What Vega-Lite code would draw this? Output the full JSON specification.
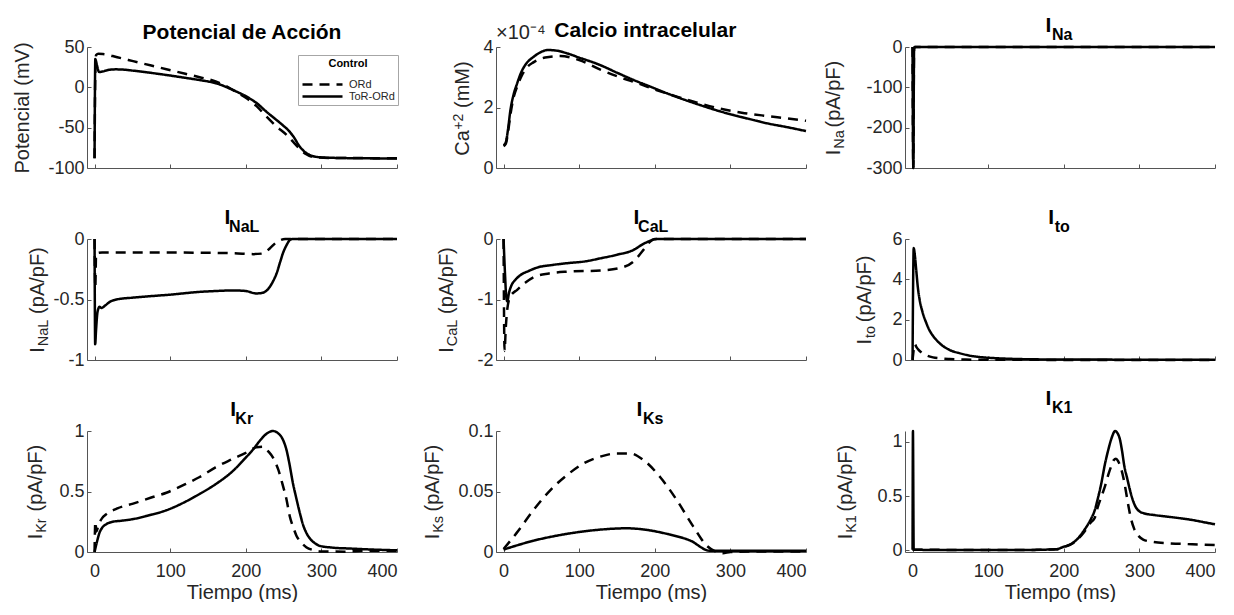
{
"$schema": "https://vega.github.io/schema/vega-lite/v6.json",
"padding": {"left": 11, "top": 15, "right": 0, "bottom": 0},
"background": "white",
"config": {
  "font": "Liberation Sans",
  "view": {"stroke": null},
  "title": {"font": "Liberation Sans", "color": "black", "fontWeight": "bold", "fontSize": 21, "offset": -5},
  "axis": {"grid": false, "domainColor": "#555555", "tickColor": "#555555", "tickSize": -4, "labelFont": "Liberation Sans", "labelFontSize": 18, "labelColor": "#262626", "labelPadding": 7, "titleFont": "Liberation Sans", "titleFontSize": 20, "titleFontWeight": "normal", "titleColor": "#262626", "labelExpr": "toString(datum.value)"},
  "line": {"color": "black", "strokeWidth": 2.5, "interpolate": "monotone"}
},
"datasets": {
"p1": [
{"t":0,"v":-88,"m":"ToR-ORd"},{"t":1,"v":35,"m":"ToR-ORd"},{"t":3,"v":28,"m":"ToR-ORd"},{"t":6,"v":19,"m":"ToR-ORd"},{"t":10,"v":19.5,"m":"ToR-ORd"},{"t":18,"v":21.5,"m":"ToR-ORd"},{"t":28,"v":22.3,"m":"ToR-ORd"},{"t":40,"v":21.8,"m":"ToR-ORd"},{"t":51,"v":20.7,"m":"ToR-ORd"},{"t":70,"v":18.5,"m":"ToR-ORd"},{"t":95,"v":15.3,"m":"ToR-ORd"},{"t":120,"v":11.8,"m":"ToR-ORd"},{"t":139,"v":9,"m":"ToR-ORd"},{"t":161,"v":5,"m":"ToR-ORd"},{"t":183,"v":-3.3,"m":"ToR-ORd"},{"t":200,"v":-11,"m":"ToR-ORd"},{"t":215,"v":-20,"m":"ToR-ORd"},{"t":227,"v":-30,"m":"ToR-ORd"},{"t":240,"v":-40,"m":"ToR-ORd"},{"t":249,"v":-47,"m":"ToR-ORd"},{"t":257,"v":-54,"m":"ToR-ORd"},{"t":263,"v":-61,"m":"ToR-ORd"},{"t":271,"v":-73,"m":"ToR-ORd"},{"t":278,"v":-80,"m":"ToR-ORd"},{"t":285,"v":-84,"m":"ToR-ORd"},{"t":298,"v":-86.7,"m":"ToR-ORd"},{"t":320,"v":-87.5,"m":"ToR-ORd"},{"t":360,"v":-88,"m":"ToR-ORd"},{"t":400,"v":-88.3,"m":"ToR-ORd"},
{"t":0,"v":-88,"m":"ORd"},{"t":1,"v":20,"m":"ORd"},{"t":2,"v":40,"m":"ORd"},{"t":5,"v":41.5,"m":"ORd"},{"t":11,"v":41.3,"m":"ORd"},{"t":30,"v":37.3,"m":"ORd"},{"t":51,"v":32.5,"m":"ORd"},{"t":75,"v":27,"m":"ORd"},{"t":95,"v":22.5,"m":"ORd"},{"t":120,"v":16.8,"m":"ORd"},{"t":139,"v":12.5,"m":"ORd"},{"t":161,"v":7,"m":"ORd"},{"t":172,"v":2.5,"m":"ORd"},{"t":183,"v":-3.3,"m":"ORd"},{"t":200,"v":-13,"m":"ORd"},{"t":215,"v":-24,"m":"ORd"},{"t":227,"v":-36,"m":"ORd"},{"t":240,"v":-48,"m":"ORd"},{"t":254,"v":-59,"m":"ORd"},{"t":263,"v":-68,"m":"ORd"},{"t":271,"v":-76,"m":"ORd"},{"t":280,"v":-83,"m":"ORd"},{"t":290,"v":-86.5,"m":"ORd"},{"t":310,"v":-87.5,"m":"ORd"},{"t":350,"v":-87.7,"m":"ORd"},{"t":400,"v":-88,"m":"ORd"}
],
"p2": [
{"t":0,"v":0.75,"m":"ToR-ORd"},{"t":3,"v":0.85,"m":"ToR-ORd"},{"t":6,"v":1.3,"m":"ToR-ORd"},{"t":9,"v":1.9,"m":"ToR-ORd"},{"t":13,"v":2.4,"m":"ToR-ORd"},{"t":18,"v":2.8,"m":"ToR-ORd"},{"t":24,"v":3.2,"m":"ToR-ORd"},{"t":30,"v":3.45,"m":"ToR-ORd"},{"t":40,"v":3.68,"m":"ToR-ORd"},{"t":50,"v":3.84,"m":"ToR-ORd"},{"t":58,"v":3.9,"m":"ToR-ORd"},{"t":70,"v":3.88,"m":"ToR-ORd"},{"t":84,"v":3.79,"m":"ToR-ORd"},{"t":100,"v":3.65,"m":"ToR-ORd"},{"t":128,"v":3.4,"m":"ToR-ORd"},{"t":150,"v":3.15,"m":"ToR-ORd"},{"t":172,"v":2.91,"m":"ToR-ORd"},{"t":195,"v":2.68,"m":"ToR-ORd"},{"t":216,"v":2.47,"m":"ToR-ORd"},{"t":240,"v":2.25,"m":"ToR-ORd"},{"t":260,"v":2.08,"m":"ToR-ORd"},{"t":280,"v":1.92,"m":"ToR-ORd"},{"t":304,"v":1.75,"m":"ToR-ORd"},{"t":325,"v":1.62,"m":"ToR-ORd"},{"t":348,"v":1.48,"m":"ToR-ORd"},{"t":375,"v":1.35,"m":"ToR-ORd"},{"t":400,"v":1.22,"m":"ToR-ORd"},
{"t":0,"v":0.72,"m":"ORd"},{"t":3,"v":0.8,"m":"ORd"},{"t":6,"v":1.2,"m":"ORd"},{"t":9,"v":1.75,"m":"ORd"},{"t":13,"v":2.3,"m":"ORd"},{"t":18,"v":2.69,"m":"ORd"},{"t":24,"v":3.05,"m":"ORd"},{"t":30,"v":3.3,"m":"ORd"},{"t":40,"v":3.5,"m":"ORd"},{"t":55,"v":3.65,"m":"ORd"},{"t":75,"v":3.7,"m":"ORd"},{"t":100,"v":3.57,"m":"ORd"},{"t":128,"v":3.25,"m":"ORd"},{"t":154,"v":3.0,"m":"ORd"},{"t":180,"v":2.78,"m":"ORd"},{"t":202,"v":2.58,"m":"ORd"},{"t":229,"v":2.36,"m":"ORd"},{"t":255,"v":2.17,"m":"ORd"},{"t":285,"v":1.97,"m":"ORd"},{"t":315,"v":1.83,"m":"ORd"},{"t":348,"v":1.72,"m":"ORd"},{"t":375,"v":1.64,"m":"ORd"},{"t":400,"v":1.56,"m":"ORd"}
],
"p3": [
{"t":0,"v":0,"m":"ToR-ORd"},{"t":1,"v":-300,"m":"ToR-ORd"},{"t":2,"v":-5,"m":"ToR-ORd"},{"t":3,"v":0,"m":"ToR-ORd"},{"t":100,"v":0,"m":"ToR-ORd"},{"t":400,"v":0,"m":"ToR-ORd"},
{"t":0,"v":0,"m":"ORd"},{"t":1,"v":-300,"m":"ORd"},{"t":2,"v":-5,"m":"ORd"},{"t":3,"v":0,"m":"ORd"},{"t":100,"v":0,"m":"ORd"},{"t":400,"v":0,"m":"ORd"}
],
"p4": [
{"t":0,"v":0,"m":"ToR-ORd"},{"t":0.8,"v":-0.87,"m":"ToR-ORd"},{"t":2,"v":-0.75,"m":"ToR-ORd"},{"t":4,"v":-0.6,"m":"ToR-ORd"},{"t":6.6,"v":-0.56,"m":"ToR-ORd"},{"t":9,"v":-0.57,"m":"ToR-ORd"},{"t":14,"v":-0.55,"m":"ToR-ORd"},{"t":20,"v":-0.52,"m":"ToR-ORd"},{"t":29,"v":-0.5,"m":"ToR-ORd"},{"t":50,"v":-0.485,"m":"ToR-ORd"},{"t":73,"v":-0.473,"m":"ToR-ORd"},{"t":100,"v":-0.46,"m":"ToR-ORd"},{"t":139,"v":-0.437,"m":"ToR-ORd"},{"t":160,"v":-0.43,"m":"ToR-ORd"},{"t":183,"v":-0.425,"m":"ToR-ORd"},{"t":200,"v":-0.43,"m":"ToR-ORd"},{"t":214,"v":-0.45,"m":"ToR-ORd"},{"t":222,"v":-0.445,"m":"ToR-ORd"},{"t":230,"v":-0.41,"m":"ToR-ORd"},{"t":236,"v":-0.35,"m":"ToR-ORd"},{"t":241,"v":-0.28,"m":"ToR-ORd"},{"t":245,"v":-0.2,"m":"ToR-ORd"},{"t":249,"v":-0.12,"m":"ToR-ORd"},{"t":254,"v":-0.05,"m":"ToR-ORd"},{"t":258,"v":-0.01,"m":"ToR-ORd"},{"t":262,"v":0,"m":"ToR-ORd"},{"t":300,"v":0,"m":"ToR-ORd"},{"t":400,"v":0,"m":"ToR-ORd"},
{"t":0,"v":0,"m":"ORd"},{"t":1,"v":-0.4,"m":"ORd"},{"t":2,"v":-0.12,"m":"ORd"},{"t":10,"v":-0.112,"m":"ORd"},{"t":100,"v":-0.112,"m":"ORd"},{"t":183,"v":-0.117,"m":"ORd"},{"t":210,"v":-0.125,"m":"ORd"},{"t":222,"v":-0.12,"m":"ORd"},{"t":232,"v":-0.076,"m":"ORd"},{"t":240,"v":-0.03,"m":"ORd"},{"t":245,"v":-0.012,"m":"ORd"},{"t":252,"v":0,"m":"ORd"},{"t":400,"v":0,"m":"ORd"}
],
"p5": [
{"t":0,"v":0,"m":"ToR-ORd"},{"t":2,"v":-0.6,"m":"ToR-ORd"},{"t":3.5,"v":-0.95,"m":"ToR-ORd"},{"t":5,"v":-1.03,"m":"ToR-ORd"},{"t":7,"v":-0.9,"m":"ToR-ORd"},{"t":10,"v":-0.78,"m":"ToR-ORd"},{"t":16,"v":-0.67,"m":"ToR-ORd"},{"t":22,"v":-0.6,"m":"ToR-ORd"},{"t":33,"v":-0.53,"m":"ToR-ORd"},{"t":45,"v":-0.47,"m":"ToR-ORd"},{"t":64,"v":-0.43,"m":"ToR-ORd"},{"t":84,"v":-0.4,"m":"ToR-ORd"},{"t":108,"v":-0.37,"m":"ToR-ORd"},{"t":128,"v":-0.32,"m":"ToR-ORd"},{"t":150,"v":-0.26,"m":"ToR-ORd"},{"t":172,"v":-0.18,"m":"ToR-ORd"},{"t":185,"v":-0.08,"m":"ToR-ORd"},{"t":192,"v":-0.04,"m":"ToR-ORd"},{"t":198,"v":-0.01,"m":"ToR-ORd"},{"t":205,"v":0,"m":"ToR-ORd"},{"t":400,"v":0,"m":"ToR-ORd"},
{"t":0,"v":0,"m":"ORd"},{"t":1.3,"v":-1.85,"m":"ORd"},{"t":3,"v":-1.45,"m":"ORd"},{"t":5,"v":-1.15,"m":"ORd"},{"t":9,"v":-0.95,"m":"ORd"},{"t":18,"v":-0.84,"m":"ORd"},{"t":29,"v":-0.72,"m":"ORd"},{"t":40,"v":-0.63,"m":"ORd"},{"t":60,"v":-0.57,"m":"ORd"},{"t":84,"v":-0.54,"m":"ORd"},{"t":128,"v":-0.52,"m":"ORd"},{"t":154,"v":-0.48,"m":"ORd"},{"t":172,"v":-0.37,"m":"ORd"},{"t":185,"v":-0.18,"m":"ORd"},{"t":194,"v":-0.04,"m":"ORd"},{"t":200,"v":0,"m":"ORd"},{"t":400,"v":0,"m":"ORd"}
],
"p6": [
{"t":0,"v":0,"m":"ToR-ORd"},{"t":0.8,"v":4,"m":"ToR-ORd"},{"t":1.5,"v":5.55,"m":"ToR-ORd"},{"t":3,"v":5.2,"m":"ToR-ORd"},{"t":5,"v":4.4,"m":"ToR-ORd"},{"t":7,"v":3.6,"m":"ToR-ORd"},{"t":9.3,"v":3.0,"m":"ToR-ORd"},{"t":13,"v":2.4,"m":"ToR-ORd"},{"t":18,"v":1.85,"m":"ToR-ORd"},{"t":22,"v":1.5,"m":"ToR-ORd"},{"t":27,"v":1.2,"m":"ToR-ORd"},{"t":33,"v":0.93,"m":"ToR-ORd"},{"t":40,"v":0.7,"m":"ToR-ORd"},{"t":50,"v":0.48,"m":"ToR-ORd"},{"t":63,"v":0.33,"m":"ToR-ORd"},{"t":78,"v":0.2,"m":"ToR-ORd"},{"t":94,"v":0.13,"m":"ToR-ORd"},{"t":115,"v":0.08,"m":"ToR-ORd"},{"t":138,"v":0.05,"m":"ToR-ORd"},{"t":170,"v":0.03,"m":"ToR-ORd"},{"t":250,"v":0.02,"m":"ToR-ORd"},{"t":400,"v":0.01,"m":"ToR-ORd"},
{"t":0,"v":0,"m":"ORd"},{"t":1.5,"v":0.5,"m":"ORd"},{"t":3,"v":0.79,"m":"ORd"},{"t":5,"v":0.65,"m":"ORd"},{"t":8,"v":0.5,"m":"ORd"},{"t":11.6,"v":0.38,"m":"ORd"},{"t":18,"v":0.24,"m":"ORd"},{"t":27,"v":0.13,"m":"ORd"},{"t":38,"v":0.08,"m":"ORd"},{"t":49,"v":0.05,"m":"ORd"},{"t":70,"v":0.02,"m":"ORd"},{"t":100,"v":0.01,"m":"ORd"},{"t":400,"v":0,"m":"ORd"}
],
"p7": [
{"t":0,"v":0,"m":"ToR-ORd"},{"t":3,"v":0.08,"m":"ToR-ORd"},{"t":6.6,"v":0.16,"m":"ToR-ORd"},{"t":10,"v":0.2,"m":"ToR-ORd"},{"t":15.5,"v":0.23,"m":"ToR-ORd"},{"t":24,"v":0.25,"m":"ToR-ORd"},{"t":35,"v":0.258,"m":"ToR-ORd"},{"t":51,"v":0.272,"m":"ToR-ORd"},{"t":70,"v":0.3,"m":"ToR-ORd"},{"t":95,"v":0.345,"m":"ToR-ORd"},{"t":120,"v":0.415,"m":"ToR-ORd"},{"t":139,"v":0.48,"m":"ToR-ORd"},{"t":160,"v":0.56,"m":"ToR-ORd"},{"t":183,"v":0.67,"m":"ToR-ORd"},{"t":200,"v":0.78,"m":"ToR-ORd"},{"t":210,"v":0.85,"m":"ToR-ORd"},{"t":220,"v":0.93,"m":"ToR-ORd"},{"t":227,"v":0.975,"m":"ToR-ORd"},{"t":236,"v":1.0,"m":"ToR-ORd"},{"t":243,"v":0.98,"m":"ToR-ORd"},{"t":249,"v":0.93,"m":"ToR-ORd"},{"t":254,"v":0.84,"m":"ToR-ORd"},{"t":258,"v":0.72,"m":"ToR-ORd"},{"t":262,"v":0.58,"m":"ToR-ORd"},{"t":267,"v":0.44,"m":"ToR-ORd"},{"t":272,"v":0.31,"m":"ToR-ORd"},{"t":276,"v":0.22,"m":"ToR-ORd"},{"t":280,"v":0.16,"m":"ToR-ORd"},{"t":285,"v":0.11,"m":"ToR-ORd"},{"t":292,"v":0.07,"m":"ToR-ORd"},{"t":298,"v":0.05,"m":"ToR-ORd"},{"t":315,"v":0.036,"m":"ToR-ORd"},{"t":340,"v":0.028,"m":"ToR-ORd"},{"t":360,"v":0.022,"m":"ToR-ORd"},{"t":400,"v":0.014,"m":"ToR-ORd"},
{"t":0,"v":0,"m":"ORd"},{"t":1,"v":0.25,"m":"ORd"},{"t":2.5,"v":0.17,"m":"ORd"},{"t":5,"v":0.22,"m":"ORd"},{"t":10,"v":0.28,"m":"ORd"},{"t":15,"v":0.31,"m":"ORd"},{"t":30,"v":0.36,"m":"ORd"},{"t":51,"v":0.4,"m":"ORd"},{"t":75,"v":0.45,"m":"ORd"},{"t":95,"v":0.49,"m":"ORd"},{"t":120,"v":0.56,"m":"ORd"},{"t":139,"v":0.62,"m":"ORd"},{"t":160,"v":0.7,"m":"ORd"},{"t":183,"v":0.77,"m":"ORd"},{"t":200,"v":0.82,"m":"ORd"},{"t":214,"v":0.865,"m":"ORd"},{"t":223,"v":0.87,"m":"ORd"},{"t":230,"v":0.83,"m":"ORd"},{"t":236,"v":0.78,"m":"ORd"},{"t":243,"v":0.68,"m":"ORd"},{"t":249,"v":0.55,"m":"ORd"},{"t":254,"v":0.43,"m":"ORd"},{"t":258,"v":0.3,"m":"ORd"},{"t":263,"v":0.2,"m":"ORd"},{"t":267,"v":0.135,"m":"ORd"},{"t":273,"v":0.08,"m":"ORd"},{"t":280,"v":0.04,"m":"ORd"},{"t":290,"v":0.015,"m":"ORd"},{"t":298,"v":0.005,"m":"ORd"},{"t":330,"v":0.003,"m":"ORd"},{"t":360,"v":0.01,"m":"ORd"},{"t":400,"v":0.01,"m":"ORd"}
],
"p8": [
{"t":0,"v":0.002,"m":"ToR-ORd"},{"t":40,"v":0.0094,"m":"ToR-ORd"},{"t":84,"v":0.015,"m":"ToR-ORd"},{"t":128,"v":0.0185,"m":"ToR-ORd"},{"t":163,"v":0.0196,"m":"ToR-ORd"},{"t":180,"v":0.019,"m":"ToR-ORd"},{"t":216,"v":0.015,"m":"ToR-ORd"},{"t":247,"v":0.0094,"m":"ToR-ORd"},{"t":273,"v":0.001,"m":"ToR-ORd"},{"t":300,"v":0.001,"m":"ToR-ORd"},{"t":400,"v":0.001,"m":"ToR-ORd"},
{"t":0,"v":0.0025,"m":"ORd"},{"t":17.6,"v":0.016,"m":"ORd"},{"t":40,"v":0.035,"m":"ORd"},{"t":62,"v":0.0512,"m":"ORd"},{"t":84,"v":0.0636,"m":"ORd"},{"t":106,"v":0.0733,"m":"ORd"},{"t":128,"v":0.0788,"m":"ORd"},{"t":150,"v":0.0815,"m":"ORd"},{"t":167,"v":0.0815,"m":"ORd"},{"t":185,"v":0.076,"m":"ORd"},{"t":207,"v":0.062,"m":"ORd"},{"t":229,"v":0.043,"m":"ORd"},{"t":251,"v":0.021,"m":"ORd"},{"t":269,"v":0.005,"m":"ORd"},{"t":282,"v":0,"m":"ORd"},{"t":290,"v":-0.001,"m":"ORd"},{"t":300,"v":0,"m":"ORd"},{"t":350,"v":0.0005,"m":"ORd"},{"t":400,"v":0.0005,"m":"ORd"}
],
"p9": [
{"t":0,"v":0.005,"m":"ToR-ORd"},{"t":0.5,"v":1.1,"m":"ToR-ORd"},{"t":1.5,"v":0.005,"m":"ToR-ORd"},{"t":50,"v":0.004,"m":"ToR-ORd"},{"t":150,"v":0.004,"m":"ToR-ORd"},{"t":190,"v":0.01,"m":"ToR-ORd"},{"t":200,"v":0.034,"m":"ToR-ORd"},{"t":207,"v":0.05,"m":"ToR-ORd"},{"t":214,"v":0.08,"m":"ToR-ORd"},{"t":220,"v":0.12,"m":"ToR-ORd"},{"t":227,"v":0.186,"m":"ToR-ORd"},{"t":236,"v":0.29,"m":"ToR-ORd"},{"t":241,"v":0.37,"m":"ToR-ORd"},{"t":245,"v":0.477,"m":"ToR-ORd"},{"t":250,"v":0.63,"m":"ToR-ORd"},{"t":254,"v":0.78,"m":"ToR-ORd"},{"t":259,"v":0.93,"m":"ToR-ORd"},{"t":263,"v":1.03,"m":"ToR-ORd"},{"t":268,"v":1.1,"m":"ToR-ORd"},{"t":271,"v":1.08,"m":"ToR-ORd"},{"t":274,"v":1.03,"m":"ToR-ORd"},{"t":277,"v":0.92,"m":"ToR-ORd"},{"t":280,"v":0.78,"m":"ToR-ORd"},{"t":284,"v":0.66,"m":"ToR-ORd"},{"t":287,"v":0.57,"m":"ToR-ORd"},{"t":291,"v":0.47,"m":"ToR-ORd"},{"t":294,"v":0.415,"m":"ToR-ORd"},{"t":300,"v":0.36,"m":"ToR-ORd"},{"t":307,"v":0.34,"m":"ToR-ORd"},{"t":320,"v":0.325,"m":"ToR-ORd"},{"t":338,"v":0.31,"m":"ToR-ORd"},{"t":355,"v":0.295,"m":"ToR-ORd"},{"t":370,"v":0.28,"m":"ToR-ORd"},{"t":385,"v":0.26,"m":"ToR-ORd"},{"t":400,"v":0.24,"m":"ToR-ORd"},
{"t":0,"v":0.005,"m":"ORd"},{"t":150,"v":0.004,"m":"ORd"},{"t":190,"v":0.01,"m":"ORd"},{"t":200,"v":0.03,"m":"ORd"},{"t":214,"v":0.075,"m":"ORd"},{"t":227,"v":0.17,"m":"ORd"},{"t":236,"v":0.26,"m":"ORd"},{"t":241,"v":0.3,"m":"ORd"},{"t":245,"v":0.4,"m":"ORd"},{"t":250,"v":0.5,"m":"ORd"},{"t":254,"v":0.58,"m":"ORd"},{"t":259,"v":0.7,"m":"ORd"},{"t":263,"v":0.78,"m":"ORd"},{"t":266,"v":0.83,"m":"ORd"},{"t":269,"v":0.845,"m":"ORd"},{"t":272,"v":0.82,"m":"ORd"},{"t":276,"v":0.75,"m":"ORd"},{"t":280,"v":0.63,"m":"ORd"},{"t":283,"v":0.51,"m":"ORd"},{"t":286,"v":0.39,"m":"ORd"},{"t":289,"v":0.29,"m":"ORd"},{"t":293,"v":0.2,"m":"ORd"},{"t":298,"v":0.14,"m":"ORd"},{"t":305,"v":0.1,"m":"ORd"},{"t":316,"v":0.08,"m":"ORd"},{"t":338,"v":0.066,"m":"ORd"},{"t":370,"v":0.056,"m":"ORd"},{"t":400,"v":0.049,"m":"ORd"}
]
},
"columns": 3,
"spacing": {"row": 71, "column": 99},
"bounds": "flush",
"resolve": {"scale": {"strokeDash": "independent"}, "legend": {"strokeDash": "independent"}},
"concat": [
{
  "data": {"name": "p1"}, "width": 310, "height": 121,
  "title": {"text": "Potencial de Acción"},
  "mark": {"type": "line"},
  "encoding": {
    "x": {"field": "t", "type": "quantitative", "scale": {"domain": [-10, 400], "nice": false, "zero": false}, "axis": {"values": [0,100,200,300,400], "labels": false, "title": null}},
    "y": {"field": "v", "type": "quantitative", "scale": {"domain": [-100, 50], "nice": false, "zero": false}, "axis": {"values": [-100,-50,0,50], "title": "Potencial (mV)", "titleAngle": 270, "titleAlign": "center", "titleBaseline": "alphabetic", "titleX": -59, "titleY": 60.5}},
    "strokeDash": {"field": "m", "type": "nominal", "scale": {"domain": ["ORd", "ToR-ORd"], "range": [[10, 7], [1, 0]]},
      "legend": {"orient": "none", "legendX": 211, "legendY": 8, "title": "Control", "titleFontSize": 11, "titleFontWeight": "bold", "titleColor": "black", "titleAnchor": "middle", "titleAlign": "center", "titlePadding": 9, "labelFontSize": 11, "labelColor": "#262626", "labelOffset": 35, "symbolType": "M-1,0H7", "symbolSize": 100, "symbolStrokeWidth": 2.5, "symbolStrokeColor": "black", "strokeColor": "#a6a6a6", "fillColor": "white", "padding": 3, "rowPadding": 0}}
  }
},
{
  "data": {"name": "p2"}, "width": 310, "height": 121,
  "title": {"text": "\u200b\u00a0\u00a0\u00a0\u00a0\u00a0\u00a0\u00a0\u00a0\u00a0\u00a0Calcio intracelular", "anchor": "start", "frame": "group", "subtitle": "×10⁻⁴", "subtitleFont": "Liberation Sans", "subtitleFontSize": 20, "subtitleFontWeight": "normal", "subtitleColor": "#262626", "subtitlePadding": -18},
  "encoding": {"x": {"field": "t", "type": "quantitative", "scale": {"domain": [-10, 400], "nice": false, "zero": false}, "axis": {"values": [0,100,200,300,400], "labels": false, "title": null}}},
  "layer": [
    {"mark": {"type": "line"}, "encoding": {
      "y": {"field": "v", "type": "quantitative", "scale": {"domain": [0, 4], "nice": false, "zero": false}, "axis": {"values": [0,2,4], "title": "Ca\u00a0\u00a0\u00a0\u00a0(mM)", "titleAngle": 270, "titleAlign": "left", "titleBaseline": "alphabetic", "titleX": -28, "titleY": 108.3}},
      "strokeDash": {"field": "m", "type": "nominal", "scale": {"domain": ["ORd", "ToR-ORd"], "range": [[10, 7], [1, 0]]}, "legend": null}}},
    {"mark": {"type": "point", "opacity": 0}, "encoding": {
      "y": {"field": "v", "type": "quantitative", "scale": {"domain": [0, 4], "nice": false, "zero": false}, "axis": {"orient": "right", "domain": false, "ticks": false, "labels": false, "title": "+2", "titleFontSize": 14, "titleAngle": 270, "titleAlign": "left", "titleBaseline": "alphabetic", "titleX": -344, "titleY": 82.2}}}}
  ],
  "resolve": {"axis": {"y": "independent"}}
},
{
  "data": {"name": "p3"}, "width": 310, "height": 121,
  "title": {"text": "I\u00a0\u00a0\u00a0\u00a0\u200b", "subtitle": "\u200b\u00a0Na", "subtitleFontSize": 16, "subtitleFontWeight": "bold", "subtitleColor": "black", "subtitlePadding": -9},
  "encoding": {"x": {"field": "t", "type": "quantitative", "scale": {"domain": [-10, 400], "nice": false, "zero": false}, "axis": {"values": [0,100,200,300,400], "labels": false, "title": null}}},
  "layer": [
    {"mark": {"type": "line"}, "encoding": {
      "y": {"field": "v", "type": "quantitative", "scale": {"domain": [-300, 0], "nice": false, "zero": false}, "axis": {"values": [-300,-200,-100,0], "title": "I\u00a0\u00a0\u00a0\u00a0(pA/pF)", "titleAngle": 270, "titleAlign": "left", "titleBaseline": "alphabetic", "titleX": -66, "titleY": 107.8}},
      "strokeDash": {"field": "m", "type": "nominal", "scale": {"domain": ["ORd", "ToR-ORd"], "range": [[10, 7], [1, 0]]}, "legend": null}}},
    {"mark": {"type": "point", "opacity": 0}, "encoding": {
      "y": {"field": "v", "type": "quantitative", "scale": {"domain": [-300, 0], "nice": false, "zero": false}, "axis": {"orient": "right", "domain": false, "ticks": false, "labels": false, "title": "Na", "titleFontSize": 14.5, "titleAngle": 270, "titleAlign": "left", "titleBaseline": "alphabetic", "titleX": -372, "titleY": 101.3}}}}
  ],
  "resolve": {"axis": {"y": "independent"}}
},
{
  "data": {"name": "p4"}, "width": 310, "height": 121,
  "title": {"text": "I\u00a0\u00a0\u00a0\u00a0\u00a0\u200b", "subtitle": "\u200b\u00a0NaL", "subtitleFontSize": 16, "subtitleFontWeight": "bold", "subtitleColor": "black", "subtitlePadding": -9},
  "encoding": {"x": {"field": "t", "type": "quantitative", "scale": {"domain": [-10, 400], "nice": false, "zero": false}, "axis": {"values": [0,100,200,300,400], "labels": false, "title": null}}},
  "layer": [
    {"mark": {"type": "line"}, "encoding": {
      "y": {"field": "v", "type": "quantitative", "scale": {"domain": [-1, 0], "nice": false, "zero": false}, "axis": {"values": [-1,-0.5,0], "title": "I\u00a0\u00a0\u00a0\u00a0\u00a0\u00a0(pA/pF)", "titleAngle": 270, "titleAlign": "left", "titleBaseline": "alphabetic", "titleX": -44, "titleY": 113.3}},
      "strokeDash": {"field": "m", "type": "nominal", "scale": {"domain": ["ORd", "ToR-ORd"], "range": [[10, 7], [1, 0]]}, "legend": null}}},
    {"mark": {"type": "point", "opacity": 0}, "encoding": {
      "y": {"field": "v", "type": "quantitative", "scale": {"domain": [-1, 0], "nice": false, "zero": false}, "axis": {"orient": "right", "domain": false, "ticks": false, "labels": false, "title": "NaL", "titleFontSize": 14.5, "titleAngle": 270, "titleAlign": "left", "titleBaseline": "alphabetic", "titleX": -350, "titleY": 106.8}}}}
  ],
  "resolve": {"axis": {"y": "independent"}}
},
{
  "data": {"name": "p5"}, "width": 310, "height": 121,
  "title": {"text": "I\u00a0\u00a0\u00a0\u00a0\u00a0\u200b", "subtitle": "\u200b\u00a0CaL", "subtitleFontSize": 16, "subtitleFontWeight": "bold", "subtitleColor": "black", "subtitlePadding": -9},
  "encoding": {"x": {"field": "t", "type": "quantitative", "scale": {"domain": [-10, 400], "nice": false, "zero": false}, "axis": {"values": [0,100,200,300,400], "labels": false, "title": null}}},
  "layer": [
    {"mark": {"type": "line"}, "encoding": {
      "y": {"field": "v", "type": "quantitative", "scale": {"domain": [-2, 0], "nice": false, "zero": false}, "axis": {"values": [-2,-1,0], "title": "I\u00a0\u00a0\u00a0\u00a0\u00a0\u00a0(pA/pF)", "titleAngle": 270, "titleAlign": "left", "titleBaseline": "alphabetic", "titleX": -44, "titleY": 113.3}},
      "strokeDash": {"field": "m", "type": "nominal", "scale": {"domain": ["ORd", "ToR-ORd"], "range": [[10, 7], [1, 0]]}, "legend": null}}},
    {"mark": {"type": "point", "opacity": 0}, "encoding": {
      "y": {"field": "v", "type": "quantitative", "scale": {"domain": [-2, 0], "nice": false, "zero": false}, "axis": {"orient": "right", "domain": false, "ticks": false, "labels": false, "title": "CaL", "titleFontSize": 14.5, "titleAngle": 270, "titleAlign": "left", "titleBaseline": "alphabetic", "titleX": -350, "titleY": 106.8}}}}
  ],
  "resolve": {"axis": {"y": "independent"}}
},
{
  "data": {"name": "p6"}, "width": 310, "height": 121,
  "title": {"text": "I\u00a0\u00a0\u00a0\u200b", "subtitle": "\u200b\u00a0to", "subtitleFontSize": 16, "subtitleFontWeight": "bold", "subtitleColor": "black", "subtitlePadding": -9},
  "encoding": {"x": {"field": "t", "type": "quantitative", "scale": {"domain": [-10, 400], "nice": false, "zero": false}, "axis": {"values": [0,100,200,300,400], "labels": false, "title": null}}},
  "layer": [
    {"mark": {"type": "line"}, "encoding": {
      "y": {"field": "v", "type": "quantitative", "scale": {"domain": [0, 6], "nice": false, "zero": false}, "axis": {"values": [0,2,4,6], "title": "I\u00a0\u00a0\u00a0(pA/pF)", "titleAngle": 270, "titleAlign": "left", "titleBaseline": "alphabetic", "titleX": -35, "titleY": 105}},
      "strokeDash": {"field": "m", "type": "nominal", "scale": {"domain": ["ORd", "ToR-ORd"], "range": [[10, 7], [1, 0]]}, "legend": null}}},
    {"mark": {"type": "point", "opacity": 0}, "encoding": {
      "y": {"field": "v", "type": "quantitative", "scale": {"domain": [0, 6], "nice": false, "zero": false}, "axis": {"orient": "right", "domain": false, "ticks": false, "labels": false, "title": "to", "titleFontSize": 14.5, "titleAngle": 270, "titleAlign": "left", "titleBaseline": "alphabetic", "titleX": -341, "titleY": 98.5}}}}
  ],
  "resolve": {"axis": {"y": "independent"}}
},
{
  "data": {"name": "p7"}, "width": 310, "height": 121,
  "title": {"text": "I\u00a0\u00a0\u00a0\u200b", "subtitle": "\u200b\u00a0Kr", "subtitleFontSize": 16, "subtitleFontWeight": "bold", "subtitleColor": "black", "subtitlePadding": -9},
  "encoding": {"x": {"field": "t", "type": "quantitative", "scale": {"domain": [-10, 400], "nice": false, "zero": false}, "axis": {"values": [0,100,200,300,400], "title": "Tiempo (ms)", "titlePadding": 2, "labelPadding": 14}}},
  "layer": [
    {"mark": {"type": "line"}, "encoding": {
      "y": {"field": "v", "type": "quantitative", "scale": {"domain": [0, 1], "nice": false, "zero": false}, "axis": {"values": [0,0.5,1], "title": "I\u00a0\u00a0\u00a0\u00a0(pA/pF)", "titleAngle": 270, "titleAlign": "left", "titleBaseline": "alphabetic", "titleX": -46, "titleY": 107.8}},
      "strokeDash": {"field": "m", "type": "nominal", "scale": {"domain": ["ORd", "ToR-ORd"], "range": [[10, 7], [1, 0]]}, "legend": null}}},
    {"mark": {"type": "point", "opacity": 0}, "encoding": {
      "y": {"field": "v", "type": "quantitative", "scale": {"domain": [0, 1], "nice": false, "zero": false}, "axis": {"orient": "right", "domain": false, "ticks": false, "labels": false, "title": "Kr", "titleFontSize": 14.5, "titleAngle": 270, "titleAlign": "left", "titleBaseline": "alphabetic", "titleX": -352, "titleY": 101.3}}}}
  ],
  "resolve": {"axis": {"y": "independent"}}
},
{
  "data": {"name": "p8"}, "width": 310, "height": 121,
  "title": {"text": "I\u00a0\u00a0\u00a0\u00a0\u200b", "subtitle": "\u200b\u00a0Ks", "subtitleFontSize": 16, "subtitleFontWeight": "bold", "subtitleColor": "black", "subtitlePadding": -9},
  "encoding": {"x": {"field": "t", "type": "quantitative", "scale": {"domain": [-10, 400], "nice": false, "zero": false}, "axis": {"values": [0,100,200,300,400], "title": "Tiempo (ms)", "titlePadding": 2, "labelPadding": 14}}},
  "layer": [
    {"mark": {"type": "line"}, "encoding": {
      "y": {"field": "v", "type": "quantitative", "scale": {"domain": [0, 0.1], "nice": false, "zero": false}, "axis": {"values": [0,0.05,0.1], "title": "I\u00a0\u00a0\u00a0\u00a0(pA/pF)", "titleAngle": 270, "titleAlign": "left", "titleBaseline": "alphabetic", "titleX": -58, "titleY": 107.8}},
      "strokeDash": {"field": "m", "type": "nominal", "scale": {"domain": ["ORd", "ToR-ORd"], "range": [[10, 7], [1, 0]]}, "legend": null}}},
    {"mark": {"type": "point", "opacity": 0}, "encoding": {
      "y": {"field": "v", "type": "quantitative", "scale": {"domain": [0, 0.1], "nice": false, "zero": false}, "axis": {"orient": "right", "domain": false, "ticks": false, "labels": false, "title": "Ks", "titleFontSize": 14.5, "titleAngle": 270, "titleAlign": "left", "titleBaseline": "alphabetic", "titleX": -364, "titleY": 101.3}}}}
  ],
  "resolve": {"axis": {"y": "independent"}}
},
{
  "data": {"name": "p9"}, "width": 310, "height": 121,
  "title": {"text": "I\u00a0\u00a0\u00a0\u00a0\u200b", "subtitle": "\u200b\u00a0K1", "subtitleFontSize": 16, "subtitleFontWeight": "bold", "subtitleColor": "black", "subtitlePadding": -9, "offset": 10},
  "encoding": {"x": {"field": "t", "type": "quantitative", "scale": {"domain": [-10, 400], "nice": false, "zero": false}, "axis": {"values": [0,100,200,300,400], "title": "Tiempo (ms)", "titlePadding": 2, "labelPadding": 14}}},
  "layer": [
    {"mark": {"type": "line"}, "encoding": {
      "y": {"field": "v", "type": "quantitative", "scale": {"domain": [-0.015, 1.1], "nice": false, "zero": false}, "axis": {"values": [0,0.5,1], "title": "I\u00a0\u00a0\u00a0\u00a0(pA/pF)", "titleAngle": 270, "titleAlign": "left", "titleBaseline": "alphabetic", "titleX": -54, "titleY": 107.8}},
      "strokeDash": {"field": "m", "type": "nominal", "scale": {"domain": ["ORd", "ToR-ORd"], "range": [[10, 7], [1, 0]]}, "legend": null}}},
    {"mark": {"type": "point", "opacity": 0}, "encoding": {
      "y": {"field": "v", "type": "quantitative", "scale": {"domain": [-0.015, 1.1], "nice": false, "zero": false}, "axis": {"orient": "right", "domain": false, "ticks": false, "labels": false, "title": "K1", "titleFontSize": 14.5, "titleAngle": 270, "titleAlign": "left", "titleBaseline": "alphabetic", "titleX": -360, "titleY": 101.3}}}}
  ],
  "resolve": {"axis": {"y": "independent"}}
}
]
}
